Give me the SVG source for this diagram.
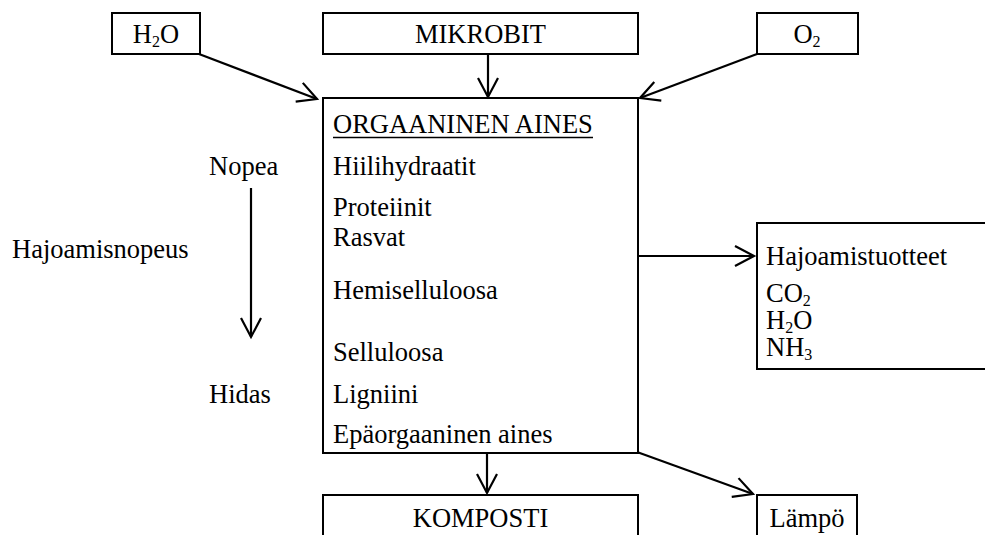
<svg xmlns="http://www.w3.org/2000/svg" width="985" height="535" viewBox="0 0 985 535">
  <defs>
    <marker id="open-arrow" markerUnits="userSpaceOnUse" markerWidth="24" markerHeight="24" viewBox="0 0 24 24" refX="21" refY="12" orient="auto">
      <path d="M2,2 L21,12 L2,22" fill="none" stroke="#000" stroke-width="2.2"/>
    </marker>
  </defs>
  <style>
    text { font-family: "Liberation Serif", "Times New Roman", serif; font-size: 26.5px; fill: #000; }
    .box { fill: #fff; stroke: #000; stroke-width: 2; }
    .mid { text-anchor: middle; }
    .sub { font-size: 16px; }
    .conn line { stroke: #000; stroke-width: 2.2; marker-end: url(#open-arrow); }
  </style>
  <rect width="985" height="535" fill="#fff"/>

  <!-- inputs -->
  <g id="water-in">
    <rect class="box" x="112" y="13" width="88" height="41"/>
    <text class="mid" x="156" y="43">H<tspan class="sub" dy="4">2</tspan><tspan dy="-4">O</tspan></text>
  </g>
  <g id="microbes">
    <rect class="box" x="323" y="13" width="315" height="41"/>
    <text class="mid" x="480.5" y="43">MIKROBIT</text>
  </g>
  <g id="oxygen">
    <rect class="box" x="757" y="13" width="101" height="41"/>
    <text class="mid" x="807" y="43">O<tspan class="sub" dy="4">2</tspan></text>
  </g>

  <!-- organic matter, listed from fast to slow decomposition -->
  <g id="organic-matter">
    <rect class="box" x="323" y="98" width="315" height="355"/>
    <text x="333" y="133">ORGAANINEN AINES</text>
    <line x1="333" y1="137.5" x2="593" y2="137.5" stroke="#000" stroke-width="1.6"/>
    <text x="333" y="175">Hiilihydraatit</text>
    <text x="333" y="216">Proteiinit</text>
    <text x="333" y="246">Rasvat</text>
    <text x="333" y="299">Hemiselluloosa</text>
    <text x="333" y="361">Selluloosa</text>
    <text x="333" y="403">Ligniini</text>
    <text x="333" y="443">Epäorgaaninen aines</text>
  </g>

  <!-- decomposition speed scale -->
  <g id="speed-scale">
    <text x="209" y="175">Nopea</text>
    <text x="12" y="258">Hajoamisnopeus</text>
    <text x="209" y="403">Hidas</text>
  </g>

  <!-- outputs -->
  <g id="products">
    <rect class="box" x="757" y="223" width="240" height="146"/>
    <text x="766" y="265">Hajoamistuotteet</text>
    <text x="766" y="302">CO<tspan class="sub" dy="4">2</tspan></text>
    <text x="766" y="329">H<tspan class="sub" dy="4">2</tspan><tspan dy="-4">O</tspan></text>
    <text x="766" y="356">NH<tspan class="sub" dy="4">3</tspan></text>
  </g>
  <g id="compost">
    <rect class="box" x="323" y="495" width="315" height="45"/>
    <text class="mid" x="480.5" y="527">KOMPOSTI</text>
  </g>
  <g id="heat">
    <rect class="box" x="757" y="495" width="100" height="45"/>
    <text class="mid" x="807" y="527">Lämpö</text>
  </g>

  <!-- connectors -->
  <g class="conn" id="connectors">
    <line x1="199" y1="54" x2="317" y2="99"/>
    <line x1="488" y1="54" x2="488" y2="97"/>
    <line x1="757" y1="54" x2="640" y2="98"/>
    <line x1="637" y1="256" x2="754" y2="256"/>
    <line x1="487" y1="453" x2="487" y2="493"/>
    <line x1="637" y1="452" x2="753" y2="494"/>
    <line x1="251" y1="188" x2="251" y2="337"/>
  </g>
</svg>
